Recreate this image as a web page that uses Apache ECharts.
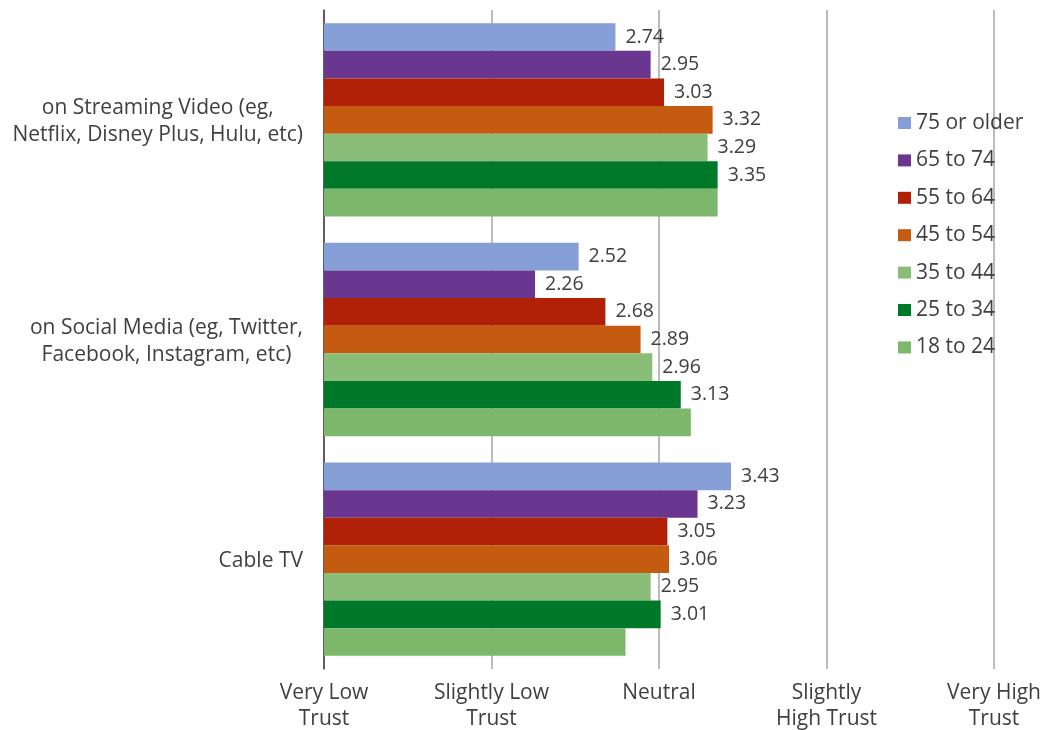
<!DOCTYPE html>
<html>
<head>
<meta charset="utf-8">
<script src="https://cdn.jsdelivr.net/npm/echarts@6/dist/echarts.min.js"></script>
<style>
  html, body { margin: 0; padding: 0; background: #ffffff; }
  #chart { width: 1041px; height: 730px; }
</style>
</head>
<body>
<div id="chart"></div>
<script>
// Platforms (top to bottom)
const categories = [
  'on Streaming Video (eg,\nNetflix, Disney Plus, Hulu, etc)',
  'on Social Media (eg, Twitter,\nFacebook, Instagram, etc)',
  'Cable TV'
];

// Trust scale labels for values 1..5
const trustLabels = [
  'Very Low\nTrust',
  'Slightly Low\nTrust',
  'Neutral',
  'Slightly\nHigh Trust',
  'Very High\nTrust'
];

// Age groups, in legend order
const ageGroups = ['75 or older', '65 to 74', '55 to 64', '45 to 54', '35 to 44', '25 to 34', '18 to 24'];

// Mean trust score per platform for each age group
const age75plus = [2.74, 2.52, 3.43];
const age65to74 = [2.95, 2.26, 3.23];
const age55to64 = [3.03, 2.68, 3.05];
const age45to54 = [3.32, 2.89, 3.06];
const age35to44 = [3.29, 2.96, 2.95];
const age25to34 = [3.35, 3.13, 3.01];
const age18to24 = [3.35, 3.19, 2.80];

const seriesValues = [age75plus, age65to74, age55to64, age45to54, age35to44, age25to34, age18to24];
const groupColors = ['#869FD6', '#6A3790', '#B02007', '#C55A11', '#8ABE78', '#00782A', '#7DB76B'];
const showValueLabel = [true, true, true, true, true, true, false];

const FONT = '"Open Sans", "Noto Sans", sans-serif';
const TEXT_SIZE = 21;
const VALUE_SIZE = 19.5;
const TEXT = '#404040';

const chart = echarts.init(document.getElementById('chart'), null, { renderer: 'canvas' });

const series = ageGroups.map((name, i) => ({
  name: name,
  type: 'bar',
  data: seriesValues[i],
  itemStyle: { color: groupColors[i] },
  barGap: '0%',
  barCategoryGap: '12%',
  label: {
    show: showValueLabel[i],
    position: 'right',
    distance: 10,
    fontFamily: FONT,
    fontSize: VALUE_SIZE,
    color: TEXT,
    formatter: p => p.value.toFixed(2)
  }
}));

chart.setOption({
  animation: false,
  textStyle: { fontFamily: FONT },
  grid: {
    left: 324,
    right: 47,
    top: 10,
    bottom: 61,
    containLabel: false,
    outerBoundsMode: 'none'
  },
  legend: {
    orient: 'vertical',
    left: 893,
    top: 106,
    icon: 'rect',
    itemWidth: 13,
    itemHeight: 12,
    itemGap: 13.4,
    data: ageGroups,
    textStyle: {
      fontFamily: FONT,
      fontSize: TEXT_SIZE,
      lineHeight: 24,
      color: TEXT
    }
  },
  xAxis: {
    type: 'value',
    min: 1,
    max: 5,
    interval: 1,
    axisLine: { show: false },
    axisTick: { show: false },
    splitLine: { show: true, lineStyle: { color: '#A6A6A6', width: 1.5 } },
    axisLabel: {
      margin: 11,
      fontFamily: FONT,
      fontSize: TEXT_SIZE,
      lineHeight: 26,
      color: TEXT,
      align: 'center',
      verticalAlign: 'top',
      formatter: v => trustLabels[Math.round(v) - 1] || ''
    }
  },
  yAxis: {
    type: 'category',
    inverse: true,
    data: categories,
    axisLine: { show: true, lineStyle: { color: '#404040', width: 1.5 } },
    axisTick: { show: false },
    axisLabel: {
      margin: 21,
      formatter: v => v.split('\n').map(line => '{c|' + line + '}').join('\n'),
      rich: {
        c: {
          align: 'center',
          fontFamily: FONT,
          fontSize: TEXT_SIZE,
          lineHeight: 27,
          color: TEXT,
          padding: [4, 0, 0, 0]
        }
      }
    }
  },
  series: series
});
</script>
</body>
</html>
